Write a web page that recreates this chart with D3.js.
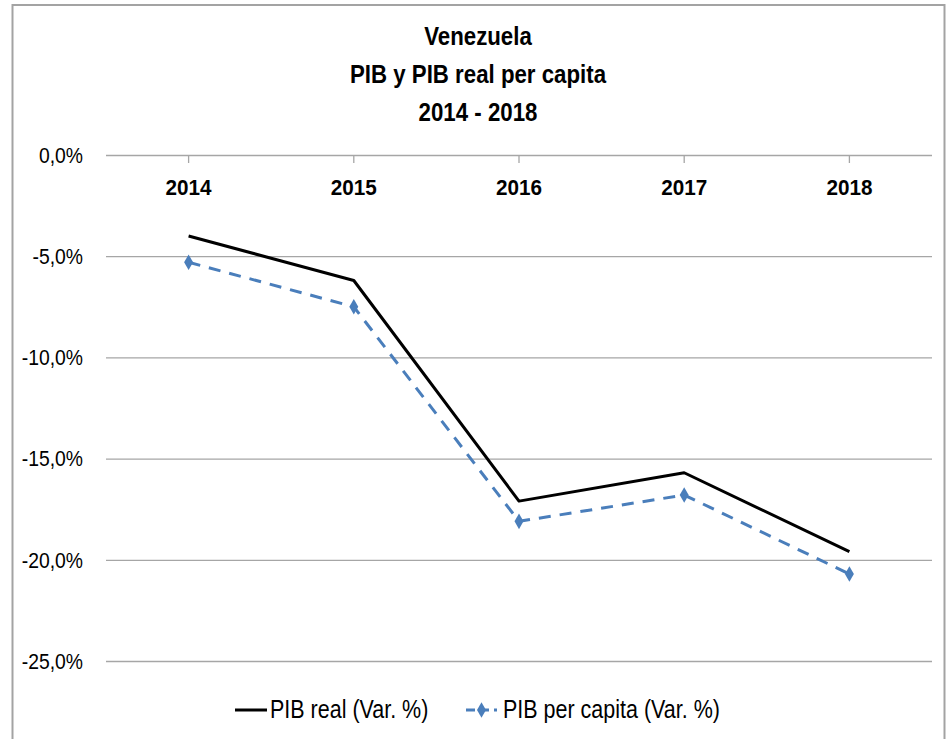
<!DOCTYPE html>
<html>
<head>
<meta charset="utf-8">
<script src="https://cdn.jsdelivr.net/npm/d3@7"></script>
<style>
  body { margin: 0; background: #fff; }
  svg { display: block; }
</style>
</head>
<body>
<svg id="chart" width="947" height="739"></svg>
<script>
// Annual change (%) of Venezuela's GDP and GDP per capita
const years = ["2014", "2015", "2016", "2017", "2018"];
const pibReal = [-4.0, -6.2, -17.1, -15.7, -19.6];
const pibPerCapita = [-5.3, -7.5, -18.1, -16.8, -20.7];
const yTicks = [0, -5, -10, -15, -20, -25];
const titleLines = ["Venezuela", "PIB y PIB real per capita", "2014 - 2018"];
const seriesNames = ["PIB real (Var. %)", "PIB per capita (Var. %)"];

const FONT = "'Liberation Sans', Arial, sans-serif";
const BLUE = "#4a7ebb";
const GRID = "#a6a6a6";

const svg = d3.select("#chart");

// outer chart frame
svg.append("rect")
  .attr("x", 12.5).attr("y", 5)
  .attr("width", 932).attr("height", 760)
  .attr("fill", "#fff")
  .attr("stroke", "#a3a3a3")
  .attr("stroke-width", 2);

const plot = { left: 106, right: 932, top: 155, bottom: 661 };

const x = d3.scaleBand().domain(years).range([plot.left, plot.right]).padding(0);
const y = d3.scaleLinear().domain([0, -25]).range([plot.top, plot.bottom]);
const cx = d => x(d) + x.bandwidth() / 2;

// condensed text: horizontal squeeze around the anchor point
function squeezedText(g, px, py, sx, str) {
  return g.append("text")
    .attr("transform", `translate(${px},${py}) scale(${sx},1)`)
    .text(str);
}

// title
const titleG = svg.append("g")
  .attr("font-family", FONT)
  .attr("font-weight", "bold")
  .attr("font-size", 26.5)
  .attr("text-anchor", "middle")
  .attr("fill", "#000");
titleLines.forEach((t, i) => squeezedText(titleG, 478, 45 + i * 38, 0.84, t));

// horizontal gridlines and value axis
const ySqueeze = 0.86;
const yAxis = d3.axisLeft(y)
  .tickValues(yTicks)
  .tickSize(-(plot.right - plot.left))
  .tickPadding(23)
  .tickFormat(d => d3.format(".1f")(d).replace("−", "-").replace(".", ",") + "%");

const gy = svg.append("g")
  .attr("transform", `translate(${plot.left},0)`)
  .call(yAxis);
gy.select(".domain").remove();
gy.selectAll(".tick line").attr("stroke", GRID).attr("stroke-width", 1.3);
gy.selectAll(".tick text")
  .attr("x", -23 / ySqueeze)
  .attr("transform", `scale(${ySqueeze},1)`)
  .attr("font-family", FONT)
  .attr("font-size", 22.5)
  .attr("fill", "#000");

// category axis sits on the zero line, ticks pointing down
const xAxis = d3.axisBottom(x)
  .tickSize(8)
  .tickPadding(16)
  .tickSizeOuter(0);
const gx = svg.append("g")
  .attr("transform", `translate(0,${y(0)})`)
  .call(xAxis);
gx.select(".domain").remove();
gx.selectAll(".tick line").attr("stroke", GRID).attr("stroke-width", 1.3);
gx.selectAll(".tick text")
  .attr("transform", "scale(0.92,1)")
  .attr("font-family", FONT)
  .attr("font-weight", "bold")
  .attr("font-size", 22.5)
  .attr("fill", "#000");

const line = d3.line()
  .x((d, i) => cx(years[i]))
  .y(d => y(d));

// PIB real: solid black
svg.append("path")
  .datum(pibReal)
  .attr("d", line)
  .attr("fill", "none")
  .attr("stroke", "#000")
  .attr("stroke-width", 3)
  .attr("stroke-linejoin", "round");

// PIB per capita: dashed blue with diamond markers
svg.append("path")
  .datum(pibPerCapita)
  .attr("d", line)
  .attr("fill", "none")
  .attr("stroke", BLUE)
  .attr("stroke-width", 3)
  .attr("stroke-dasharray", "12,9");

const diamond = d3.symbol().type(d3.symbolDiamond).size(70);
svg.append("g")
  .selectAll("path")
  .data(pibPerCapita)
  .join("path")
  .attr("transform", (d, i) => `translate(${cx(years[i])},${y(d)})`)
  .attr("d", diamond)
  .attr("fill", BLUE);

// legend
const legend = svg.append("g")
  .attr("font-family", FONT)
  .attr("font-size", 25)
  .attr("fill", "#000");
legend.append("line")
  .attr("x1", 235).attr("x2", 267).attr("y1", 710).attr("y2", 710)
  .attr("stroke", "#000").attr("stroke-width", 3);
squeezedText(legend, 270, 718, 0.86, seriesNames[0]);
legend.append("line")
  .attr("x1", 466).attr("x2", 497).attr("y1", 710).attr("y2", 710)
  .attr("stroke", BLUE).attr("stroke-width", 3).attr("stroke-dasharray", "9,5");
legend.append("path")
  .attr("transform", "translate(481.5,710)")
  .attr("d", diamond)
  .attr("fill", BLUE);
squeezedText(legend, 503, 718, 0.86, seriesNames[1]);
</script>
</body>
</html>
